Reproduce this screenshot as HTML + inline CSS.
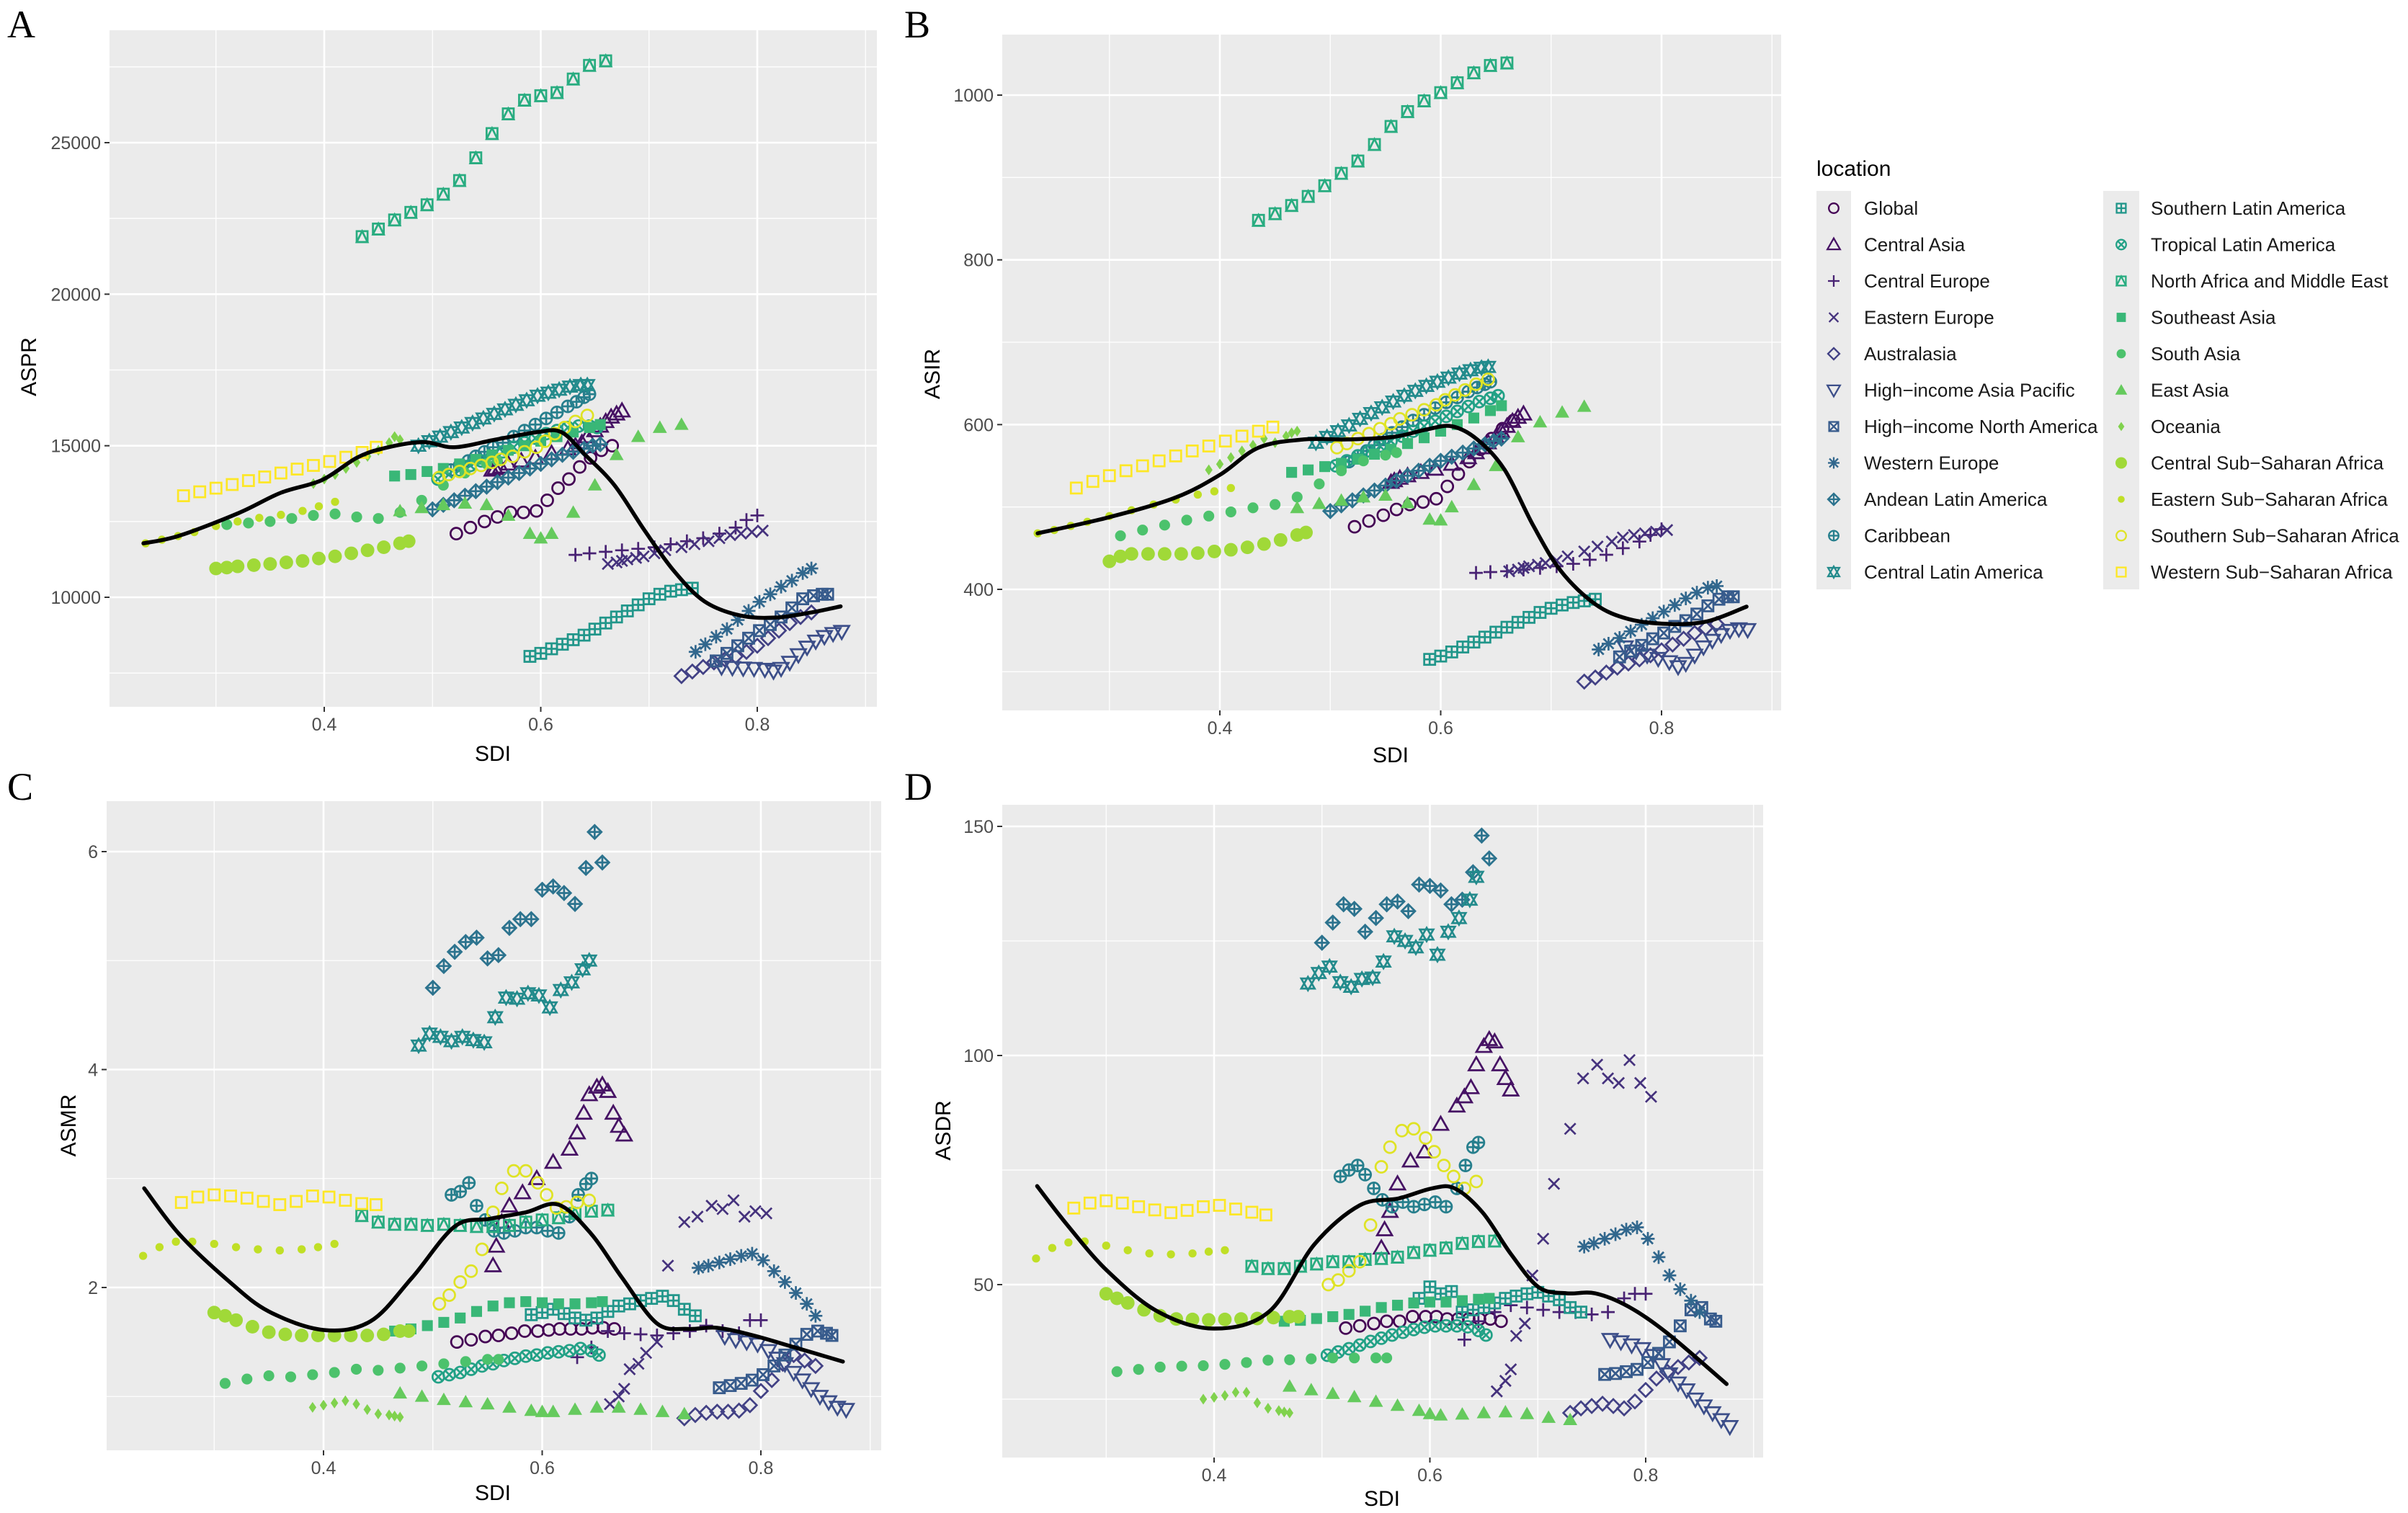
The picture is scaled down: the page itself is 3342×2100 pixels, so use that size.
<!DOCTYPE html>
<html><head><meta charset="utf-8"><title>SDI vs age-standardized rates</title>
<style>
html,body{margin:0;padding:0;background:#fff;}
svg{display:block;font-family:"Liberation Sans",Arial,sans-serif;}
</style></head>
<body>
<svg id="fig" xmlns="http://www.w3.org/2000/svg" width="3342" height="2100" viewBox="0 0 3342 2100">
<rect x="0" y="0" width="3342" height="2100" fill="#ffffff"/>
<g id="panels"></g>
<g id="legend"></g>
</svg>
<script>
// ---------- DATA ----------
const regionNames = ["Global","Central Asia","Central Europe","Eastern Europe","Australasia","High\u2212income Asia Pacific","High\u2212income North America","Western Europe","Andean Latin America","Caribbean","Central Latin America","Southern Latin America","Tropical Latin America","North Africa and Middle East","Southeast Asia","South Asia","East Asia","Oceania","Central Sub\u2212Saharan Africa","Eastern Sub\u2212Saharan Africa","Southern Sub\u2212Saharan Africa","Western Sub\u2212Saharan Africa"];

const sdiValues = [
 [0.522,0.535,0.548,0.56,0.572,0.584,0.596,0.606,0.616,0.626,0.636,0.646,0.656,0.666],
 [0.555,0.558,0.563,0.57,0.582,0.595,0.61,0.625,0.632,0.638,0.643,0.65,0.655,0.66,0.665,0.67,0.675],
 [0.632,0.645,0.66,0.675,0.69,0.705,0.72,0.735,0.75,0.765,0.78,0.79,0.80],
 [0.662,0.67,0.675,0.68,0.688,0.695,0.705,0.715,0.73,0.742,0.755,0.765,0.775,0.785,0.795,0.805],
 [0.73,0.74,0.75,0.76,0.77,0.78,0.79,0.80,0.81,0.82,0.83,0.84,0.85],
 [0.767,0.777,0.787,0.797,0.807,0.815,0.822,0.83,0.838,0.846,0.854,0.862,0.87,0.878],
 [0.762,0.772,0.782,0.792,0.802,0.812,0.822,0.832,0.842,0.852,0.86,0.865],
 [0.743,0.752,0.762,0.772,0.782,0.792,0.802,0.812,0.822,0.832,0.842,0.85],
 [0.5,0.51,0.52,0.53,0.54,0.55,0.56,0.57,0.58,0.59,0.6,0.61,0.62,0.63,0.64,0.648,0.655],
 [0.517,0.525,0.533,0.54,0.548,0.556,0.565,0.575,0.585,0.595,0.605,0.615,0.625,0.633,0.64,0.645],
 [0.487,0.497,0.507,0.517,0.527,0.537,0.547,0.557,0.567,0.577,0.587,0.597,0.607,0.617,0.627,0.637,0.643],
 [0.59,0.6,0.61,0.62,0.63,0.64,0.65,0.66,0.67,0.68,0.69,0.7,0.71,0.72,0.73,0.74],
 [0.505,0.515,0.525,0.535,0.545,0.555,0.565,0.575,0.585,0.595,0.605,0.615,0.625,0.635,0.645,0.652],
 [0.435,0.45,0.465,0.48,0.495,0.51,0.525,0.54,0.555,0.57,0.585,0.6,0.615,0.63,0.645,0.66],
 [0.465,0.48,0.495,0.51,0.525,0.54,0.555,0.57,0.585,0.6,0.615,0.63,0.645,0.655],
 [0.31,0.33,0.35,0.37,0.39,0.41,0.43,0.45,0.47,0.49,0.51,0.53,0.55,0.56],
 [0.47,0.49,0.51,0.53,0.55,0.57,0.59,0.6,0.61,0.63,0.65,0.67,0.69,0.71,0.73],
 [0.39,0.4,0.41,0.42,0.43,0.44,0.45,0.46,0.465,0.47],
 [0.30,0.31,0.32,0.335,0.35,0.365,0.38,0.395,0.41,0.425,0.44,0.455,0.47,0.478],
 [0.235,0.25,0.265,0.28,0.3,0.32,0.34,0.36,0.38,0.395,0.41],
 [0.506,0.515,0.525,0.535,0.545,0.555,0.563,0.574,0.585,0.596,0.604,0.613,0.622,0.632,0.643],
 [0.27,0.285,0.3,0.315,0.33,0.345,0.36,0.375,0.39,0.405,0.42,0.435,0.448]
];

const asprValues = [
 [12100,12300,12500,12650,12800,12800,12850,13200,13600,13900,14300,14600,14850,15000],
 [14200,14250,14300,14400,14500,14600,14750,14900,15000,15100,15300,15500,15650,15800,15950,16050,16150],
 [11400,11450,11500,11550,11600,11650,11750,11850,11950,12100,12300,12550,12700],
 [11100,11150,11200,11250,11300,11350,11450,11550,11650,11750,11850,11950,12050,12100,12150,12200],
 [7400,7550,7700,7850,7950,8050,8200,8400,8650,8900,9150,9350,9500],
 [7700,7680,7660,7650,7620,7560,7650,7850,8100,8350,8550,8700,8800,8870],
 [7900,8150,8400,8650,8900,9100,9350,9650,9950,10050,10100,10100],
 [8200,8450,8700,8950,9250,9550,9850,10100,10350,10550,10800,10950],
 [12900,13050,13200,13350,13500,13650,13800,13950,14100,14250,14400,14550,14700,14800,14900,15000,15050],
 [14200,14350,14500,14650,14800,14950,15100,15300,15500,15700,15900,16100,16300,16450,16600,16700],
 [15000,15150,15300,15450,15600,15750,15900,16050,16200,16350,16500,16650,16750,16850,16950,17000,17000],
 [8050,8150,8300,8450,8600,8750,8950,9150,9350,9550,9750,9950,10100,10200,10250,10300],
 [13900,14050,14200,14350,14500,14650,14800,14950,15100,15250,15400,15500,15600,15650,15650,15600],
 [21900,22150,22450,22700,22950,23300,23750,24500,25300,25950,26400,26550,26650,27100,27550,27700],
 [14000,14050,14150,14250,14400,14550,14700,14850,15000,15150,15300,15450,15600,15700],
 [12400,12450,12500,12600,12700,12750,12650,12600,12800,13200,13700,14100,14400,14500],
 [12850,12950,13050,13100,13050,12700,12100,11950,12100,12800,13700,14700,15300,15600,15700],
 [13750,13900,14050,14250,14450,14650,14850,15100,15300,15200],
 [10950,10980,11020,11060,11100,11150,11200,11280,11350,11450,11550,11650,11780,11850],
 [11780,11900,12020,12150,12350,12500,12620,12720,12850,13000,13150],
 [13950,14050,14150,14250,14350,14450,14550,14650,14800,14950,15150,15400,15600,15800,16000],
 [13350,13480,13600,13720,13850,13970,14100,14230,14350,14480,14620,14780,14950]
];

const asirValues = [
 [476,483,490,497,503,506,510,525,540,555,570,583,595,605],
 [530,532,535,538,542,546,552,560,566,572,578,585,592,598,604,609,613],
 [420,421,422,424,426,428,431,436,442,450,458,466,473],
 [422,424,426,428,430,432,435,440,446,452,458,463,466,468,470,472],
 [288,293,299,305,310,315,320,326,333,340,347,353,358],
 [330,325,320,316,312,306,310,320,330,338,345,350,352,351],
 [318,325,332,340,347,355,362,370,380,388,391,391],
 [327,334,341,349,357,365,373,381,389,396,402,404],
 [495,502,508,514,520,526,532,538,544,550,556,561,566,571,576,580,583],
 [555,562,568,575,582,590,597,605,612,620,627,633,640,645,649,652],
 [578,585,592,599,607,614,621,628,635,641,647,652,657,662,666,669,670],
 [315,319,324,330,336,342,348,354,360,366,372,377,381,384,386,388],
 [550,556,562,568,574,580,586,592,598,604,610,616,622,628,632,635],
 [848,856,866,877,890,905,920,940,962,980,993,1003,1015,1027,1036,1039],
 [542,545,549,553,558,564,570,577,584,592,600,608,617,623],
 [465,472,478,484,489,494,499,503,512,528,544,556,563,566],
 [499,504,508,512,514,505,485,484,500,527,550,585,603,615,622],
 [545,552,560,568,575,583,578,586,590,592],
 [434,440,443,443,443,443,444,446,448,451,455,460,466,469],
 [468,472,477,482,489,496,503,509,515,519,523],
 [572,577,583,589,595,601,607,612,618,624,630,636,642,649,655],
 [523,531,538,544,550,556,562,568,574,580,586,592,597]
];

const asmrValues = [
 [1.50,1.52,1.55,1.56,1.58,1.6,1.6,1.61,1.62,1.62,1.62,1.63,1.63,1.62],
 [2.2,2.38,2.6,2.75,2.87,3.0,3.15,3.27,3.42,3.6,3.77,3.84,3.86,3.8,3.6,3.48,3.4],
 [1.36,1.45,1.6,1.58,1.57,1.56,1.58,1.6,1.65,1.6,1.58,1.7,1.7],
 [0.93,1.0,1.07,1.25,1.3,1.4,1.5,2.2,2.6,2.65,2.75,2.72,2.8,2.65,2.7,2.68],
 [0.8,0.83,0.85,0.86,0.86,0.87,0.92,1.05,1.15,1.3,1.38,1.33,1.28],
 [1.55,1.52,1.5,1.48,1.42,1.35,1.3,1.22,1.15,1.07,1.0,0.95,0.9,0.88],
 [1.08,1.1,1.12,1.15,1.2,1.28,1.38,1.48,1.57,1.6,1.58,1.56],
 [2.18,2.2,2.23,2.26,2.29,2.31,2.25,2.15,2.05,1.95,1.85,1.74],
 [4.75,4.95,5.08,5.17,5.21,5.02,5.05,5.3,5.38,5.38,5.65,5.68,5.62,5.52,5.85,6.18,5.9],
 [2.85,2.88,2.96,2.75,2.62,2.52,2.5,2.52,2.55,2.55,2.52,2.5,2.65,2.85,2.95,3.0],
 [4.22,4.33,4.3,4.26,4.3,4.27,4.25,4.48,4.66,4.65,4.7,4.68,4.57,4.73,4.8,4.92,5.0],
 [1.75,1.77,1.8,1.76,1.72,1.7,1.72,1.78,1.83,1.85,1.88,1.9,1.92,1.88,1.8,1.74],
 [1.18,1.2,1.22,1.25,1.28,1.3,1.33,1.35,1.37,1.38,1.4,1.41,1.42,1.44,1.42,1.38],
 [2.66,2.6,2.58,2.58,2.57,2.58,2.57,2.56,2.56,2.57,2.6,2.62,2.64,2.68,2.7,2.71],
 [1.6,1.62,1.65,1.68,1.72,1.78,1.83,1.86,1.87,1.86,1.85,1.85,1.86,1.87],
 [1.12,1.16,1.19,1.18,1.2,1.22,1.25,1.24,1.26,1.28,1.3,1.32,1.34,1.34],
 [1.03,1.0,0.97,0.95,0.93,0.9,0.87,0.86,0.86,0.88,0.9,0.9,0.88,0.86,0.84],
 [0.9,0.92,0.94,0.96,0.93,0.88,0.84,0.83,0.82,0.81],
 [1.77,1.74,1.7,1.64,1.59,1.57,1.56,1.56,1.56,1.56,1.56,1.57,1.6,1.6],
 [2.29,2.37,2.42,2.42,2.4,2.37,2.35,2.34,2.35,2.37,2.4],
 [1.85,1.93,2.05,2.15,2.35,2.69,2.91,3.07,3.07,2.96,2.85,2.73,2.74,2.78,2.8],
 [2.78,2.83,2.85,2.84,2.82,2.79,2.76,2.79,2.84,2.83,2.8,2.77,2.76]
];

const asdrValues = [
 [40.5,41,41.5,42,42,43,43,43,42.5,42.5,42.5,42.5,42.5,42],
 [58,62,66,72,77,79,85,89,91,93,98,102,103.5,103,98,95,92.5],
 [38,42,44,45.5,45,44.5,44,44,43.5,44,47,48,48],
 [26.7,29,31.5,38.8,41.5,52,60,72,84,95,98,95,94,99,94,91],
 [22,23,23.5,24,23.5,23,24.5,27,29.5,31,32,33,34],
 [38,37.5,36.8,36,34.5,32.5,30.5,28.5,27,25,23.5,22,20.5,19],
 [30.4,30.6,31,31.5,33,35,37.5,41,44.5,45,42.5,42],
 [58.3,59,60,61,62,62.5,60,56,52,49,46.5,44],
 [124.6,129,133,132,127,130,133,133.6,131.5,137.3,137,136,133,134,140,148,143],
 [73.6,75,76,74,71,68.5,67,68,67,67.5,68,67,71,76,80,81],
 [115.7,118,119.4,116,115,116.7,117,120.5,126,125,123.6,126.4,122,127,130,134,139],
 [47,49.5,48,48.5,44,44.5,45,46,47,47.5,48,48.3,47.5,46.7,45,44],
 [34.6,35.3,36,36.8,37.6,38.3,39,39.6,40.2,40.7,41,41,41,40.8,40,39],
 [54,53.5,53.5,54,54.5,55,55,55.5,55.7,56,57,57.5,58,59,59.4,59.5],
 [42,42.2,42.6,43,43.5,44.2,45,45.5,46,46.2,46.2,46.5,46.8,47],
 [31,31.5,32,32.2,32.3,32.6,33,33.5,33.6,33.8,34,34,34,34],
 [27.8,27,26.2,25.5,24.5,23.6,22.5,21.8,21.5,21.7,22,22.2,21.8,21,20.5],
 [25,25.4,25.8,26.5,26.5,24.2,23,22.5,22.2,22],
 [48,47,46,44.5,43.2,42.5,42.4,42.3,42.4,42.5,42.6,42.8,43,43],
 [55.7,58,59.2,59.4,58.5,57.5,56.8,56.6,56.8,57.2,57.5],
 [50,51,53,55,63,75.7,80,83.6,84,82,79,76,73.6,71,72.5],
 [66.7,67.8,68.3,67.8,67,66.3,65.7,66.2,67,67.3,66.5,65.8,65.2]
];

// smoothed fit curves
const smoothSdiA = [0.233,0.266,0.321,0.36,0.398,0.431,0.459,0.492,0.52,0.558,0.597,0.619,0.641,0.668,0.696,0.723,0.751,0.784,0.817,0.85,0.877];
const smoothA = [11780,12030,12780,13450,13870,14620,14950,15120,14950,15200,15450,15450,14700,13700,12200,10870,9870,9400,9330,9500,9700];
const smoothSdiB = [0.235,0.298,0.359,0.4,0.435,0.476,0.516,0.557,0.587,0.61,0.633,0.658,0.684,0.709,0.74,0.77,0.806,0.841,0.877];
const smoothB = [468,487,511,539,572,582,582,585,594,598,582,545,477,422,382,364,358,361,379];
const smoothSdiC = [0.236,0.268,0.312,0.35,0.4,0.443,0.481,0.52,0.552,0.585,0.615,0.645,0.673,0.705,0.733,0.76,0.793,0.831,0.875];
const smoothC = [2.91,2.49,2.07,1.78,1.61,1.69,2.09,2.56,2.63,2.69,2.76,2.49,2.09,1.67,1.62,1.63,1.56,1.45,1.32];
const smoothSdiD = [0.236,0.264,0.301,0.348,0.4,0.451,0.493,0.535,0.571,0.602,0.623,0.649,0.675,0.701,0.727,0.753,0.784,0.82,0.875];
const smoothD = [71.5,63,53,44.1,40.4,44.1,58.8,67.3,68.8,71,71,65.7,56.7,49.4,48.1,48.1,45.2,39.4,28.3];

const xTickLabels = ["0.4","0.6","0.8"];
const xTickValues = [0.4,0.6,0.8];
const yTicksA = [10000,15000,20000,25000];
const yTicksB = [400,600,800,1000];
const yTicksC = [2,4,6];
const yTicksD = [50,100,150];

// ---------- LAYOUT ----------
const NS = "http://www.w3.org/2000/svg";
const viridis = ["#440154","#482475","#414487","#355f8d","#2a788e","#21918c","#22a884","#44bf70","#7ad151","#bddf26","#fde725"];
function hex2rgb(h){return [parseInt(h.substr(1,2),16),parseInt(h.substr(3,2),16),parseInt(h.substr(5,2),16)];}
function colorAt(i,n){const t=i/(n-1)*(viridis.length-1);const k=Math.min(Math.floor(t),viridis.length-2);const f=t-k;const a=hex2rgb(viridis[k]),b=hex2rgb(viridis[k+1]);return "rgb("+a.map((v,j)=>Math.round(v+(b[j]-v)*f)).join(",")+")";}
function el(tag,attrs,parent){const e=document.createElementNS(NS,tag);for(const k in attrs)e.setAttribute(k,attrs[k]);if(parent)parent.appendChild(e);return e;}

function marker(g,shape,cx,cy,col,scale){
  const s=8*(scale||1), sw=2.3*(scale||1);
  const o={fill:"none",stroke:col,"stroke-width":sw};
  const f={fill:col,stroke:"none"};
  const tri=(up,sz)=>{const h=sz*1.1;return up?`${cx},${cy-h} ${cx-h},${cy+h*0.75} ${cx+h},${cy+h*0.75}`:`${cx},${cy+h} ${cx-h},${cy-h*0.75} ${cx+h},${cy-h*0.75}`;};
  const line=(x1,y1,x2,y2)=>el("line",Object.assign({x1,y1,x2,y2},o),g);
  switch(shape){
    case 0: el("circle",Object.assign({cx,cy,r:s*0.85},o),g);break;
    case 1: el("polygon",Object.assign({points:tri(true,s)},o),g);break;
    case 2: line(cx-s,cy,cx+s,cy);line(cx,cy-s,cx,cy+s);break;
    case 3: line(cx-s*0.8,cy-s*0.8,cx+s*0.8,cy+s*0.8);line(cx-s*0.8,cy+s*0.8,cx+s*0.8,cy-s*0.8);break;
    case 4: el("polygon",Object.assign({points:`${cx},${cy-s} ${cx+s},${cy} ${cx},${cy+s} ${cx-s},${cy}`},o),g);break;
    case 5: el("polygon",Object.assign({points:tri(false,s)},o),g);break;
    case 6: el("rect",Object.assign({x:cx-s*0.8,y:cy-s*0.8,width:s*1.6,height:s*1.6},o),g);line(cx-s*0.8,cy-s*0.8,cx+s*0.8,cy+s*0.8);line(cx-s*0.8,cy+s*0.8,cx+s*0.8,cy-s*0.8);break;
    case 7: line(cx-s,cy,cx+s,cy);line(cx,cy-s,cx,cy+s);line(cx-s*0.75,cy-s*0.75,cx+s*0.75,cy+s*0.75);line(cx-s*0.75,cy+s*0.75,cx+s*0.75,cy-s*0.75);break;
    case 8: el("polygon",Object.assign({points:`${cx},${cy-s} ${cx+s},${cy} ${cx},${cy+s} ${cx-s},${cy}`},o),g);line(cx-s,cy,cx+s,cy);line(cx,cy-s,cx,cy+s);break;
    case 9: el("circle",Object.assign({cx,cy,r:s*0.85},o),g);line(cx-s*0.85,cy,cx+s*0.85,cy);line(cx,cy-s*0.85,cx,cy+s*0.85);break;
    case 10: el("polygon",Object.assign({points:tri(true,s*0.9)},o),g);el("polygon",Object.assign({points:tri(false,s*0.9)},o),g);break;
    case 11: el("rect",Object.assign({x:cx-s*0.8,y:cy-s*0.8,width:s*1.6,height:s*1.6},o),g);line(cx-s*0.8,cy,cx+s*0.8,cy);line(cx,cy-s*0.8,cx,cy+s*0.8);break;
    case 12: el("circle",Object.assign({cx,cy,r:s*0.85},o),g);line(cx-s*0.6,cy-s*0.6,cx+s*0.6,cy+s*0.6);line(cx-s*0.6,cy+s*0.6,cx+s*0.6,cy-s*0.6);break;
    case 13: el("rect",Object.assign({x:cx-s*0.8,y:cy-s*0.8,width:s*1.6,height:s*1.6},o),g);el("polygon",Object.assign({points:`${cx},${cy-s*0.8} ${cx-s*0.8},${cy+s*0.8} ${cx+s*0.8},${cy+s*0.8}`},o),g);break;
    case 14: el("rect",Object.assign({x:cx-s*0.8,y:cy-s*0.8,width:s*1.6,height:s*1.6},f),g);break;
    case 15: el("circle",Object.assign({cx,cy,r:s*0.8},f),g);break;
    case 16: el("polygon",Object.assign({points:tri(true,s*0.95)},f),g);break;
    case 17: el("polygon",Object.assign({points:`${cx},${cy-s*0.8} ${cx+s*0.55},${cy} ${cx},${cy+s*0.8} ${cx-s*0.55},${cy}`},f),g);break;
    case 18: el("circle",Object.assign({cx,cy,r:s*1.0},f),g);break;
    case 19: el("circle",Object.assign({cx,cy,r:s*0.6},f),g);break;
    case 20: el("circle",Object.assign({cx,cy,r:s*0.85},o),g);break;
    case 21: el("rect",Object.assign({x:cx-s*0.8,y:cy-s*0.8,width:s*1.6,height:s*1.6},o),g);break;
  }
}

const panels = [
  {id:"a",letter:"A",title:"ASPR",values:asprValues,sSdi:smoothSdiA,sVal:smoothA,ticks:yTicksA,
   box:[152,42,1217,981],x04:450,x08:1051,yv1:10000,yp1:829,yv2:25000,yp2:198,lx:10,ly:52,tx:42,ty:509,sx:684,sy:1056,step:5000},
  {id:"b",letter:"B",title:"ASIR",values:asirValues,sSdi:smoothSdiB,sVal:smoothB,ticks:yTicksB,
   box:[1391,48,2472,986],x04:1693,x08:2306,yv1:400,yp1:818,yv2:1000,yp2:132,lx:1255,ly:52,tx:1296,ty:519,sx:1930,sy:1058,step:200},
  {id:"c",letter:"C",title:"ASMR",values:asmrValues,sSdi:smoothSdiC,sVal:smoothC,ticks:yTicksC,
   box:[148,1112,1223,2013],x04:449,x08:1056,yv1:2,yp1:1787,yv2:6,yp2:1182,lx:10,ly:1110,tx:97,ty:1562,sx:684,sy:2082,step:2},
  {id:"d",letter:"D",title:"ASDR",values:asdrValues,sSdi:smoothSdiD,sVal:smoothD,ticks:yTicksD,
   box:[1391,1117,2447,2023],x04:1685,x08:2284,yv1:50,yp1:1783,yv2:150,yp2:1147,lx:1255,ly:1110,tx:1311,ty:1569,sx:1918,sy:2090,step:50}
];

const root=document.getElementById("panels");
panels.forEach(p=>{
  const g=el("g",{},root);
  
  
  const [x0,y0,x1,y1]=p.box;
  const X=v=>p.x04+(v-0.4)/0.4*(p.x08-p.x04);
  const Y=v=>p.yp1+(v-p.yv1)/(p.yv2-p.yv1)*(p.yp2-p.yp1);
  const bg=el("rect",{x:x0,y:y0,width:x1-x0,height:y1-y0,fill:"#ebebeb"},g);
  
  
  const clipId="clip"+p.id;
  const cp=el("clipPath",{id:clipId},g);el("rect",{x:x0,y:y0,width:x1-x0,height:y1-y0},cp);
  const grid=el("g",{"clip-path":"url(#"+clipId+")"},g);
  
  
  [0.1,0.3,0.5,0.7,0.9].forEach(v=>{const x=X(v);if(x>x0&&x<x1)el("line",{x1:x,x2:x,y1:y0,y2:y1,stroke:"#fff","stroke-width":1.3},grid);});
  const lo=p.ticks[0]-p.step*1.5;
  for(let k=0;k<12;k++){const v=lo+p.step*k;const y=Y(v);if(y>y0&&y<y1)el("line",{x1:x0,x2:x1,y1:y,y2:y,stroke:"#fff","stroke-width":1.3},grid);}
  xTickValues.forEach(v=>{el("line",{x1:X(v),x2:X(v),y1:y0,y2:y1,stroke:"#fff","stroke-width":2.6},grid);});
  p.ticks.forEach(v=>{el("line",{x1:x0,x2:x1,y1:Y(v),y2:Y(v),stroke:"#fff","stroke-width":2.6},grid);});
  xTickValues.forEach((v,i)=>{
    el("line",{x1:X(v),x2:X(v),y1:y1,y2:y1+7,stroke:"#333","stroke-width":2},g);
    const t=el("text",{x:X(v),y:y1+33,"text-anchor":"middle","font-size":25,fill:"#4d4d4d"},g);
    t.textContent=xTickLabels[i];
    
    
  });
  p.ticks.forEach(v=>{
    el("line",{x1:x0-7,x2:x0,y1:Y(v),y2:Y(v),stroke:"#333","stroke-width":2},g);
    const t=el("text",{x:x0-12,y:Y(v)+9,"text-anchor":"end","font-size":25,fill:"#4d4d4d"},g);
    t.textContent=String(v);
    
    
  });
  const xt=el("text",{x:p.sx,y:p.sy,"text-anchor":"middle","font-size":30,fill:"#000"},g);
  xt.textContent="SDI";
  
  
  const yt=el("text",{x:p.tx,y:p.ty,"text-anchor":"middle","font-size":30,fill:"#000",transform:`rotate(-90 ${p.tx} ${p.ty})`,"dominant-baseline":"middle"},g);
  yt.textContent=p.title;
  
  
  const lt=el("text",{x:p.lx,y:p.ly,"font-size":54,fill:"#000","font-family":"Liberation Serif, serif"},g);
  lt.textContent=p.letter;
  
  
  const pts=el("g",{"clip-path":"url(#"+clipId+")"},g);
  
  
  regionNames.forEach((name,ri)=>{
    const sg=el("g",{},pts);
    
    
    const xs=sdiValues[ri], ys=p.values[ri];
    const n=Math.min(xs.length,ys.length);
    for(let k=0;k<n;k++) marker(sg,ri,X(xs[k]),Y(ys[k]),colorAt(ri,22),1.18);
  });
  const P=p.sSdi.map((v,k)=>[X(v),Y(p.sVal[k])]);
  let d="M"+P[0][0]+","+P[0][1];
  for(let k=0;k<P.length-1;k++){
    const a=P[Math.max(k-1,0)],b=P[k],c=P[k+1],e=P[Math.min(k+2,P.length-1)];
    d+=" C"+(b[0]+(c[0]-a[0])/6)+","+(b[1]+(c[1]-a[1])/6)+" "+(c[0]-(e[0]-b[0])/6)+","+(c[1]-(e[1]-b[1])/6)+" "+c[0]+","+c[1];
  }
  const sm=el("path",{d:d,fill:"none",stroke:"#000","stroke-width":5.5,"stroke-linejoin":"round","stroke-linecap":"round"},g);
  
  
});

// legend
const lg=document.getElementById("legend");
const lt=el("text",{x:2521,y:244,"font-size":30,fill:"#000"},lg);
lt.textContent="location";


[[2521,2569],[2919,2969]].forEach(c=>{el("rect",{x:c[0],y:265,width:c[1]-c[0],height:553,fill:"#ebebeb"},lg);});
regionNames.forEach((name,i)=>{
  const col=i<11?0:1, row=i%11;
  const kx=col?2944:2545, ky=289+row*50.5;
  const eg=el("g",{},lg);
  
  
  marker(eg,i,kx,ky,colorAt(i,22),1);
  const t=el("text",{x:col?2985:2587,y:ky+9,"font-size":26,fill:"#1a1a1a"},eg);
  t.textContent=name;
});
</script>
</body></html>
